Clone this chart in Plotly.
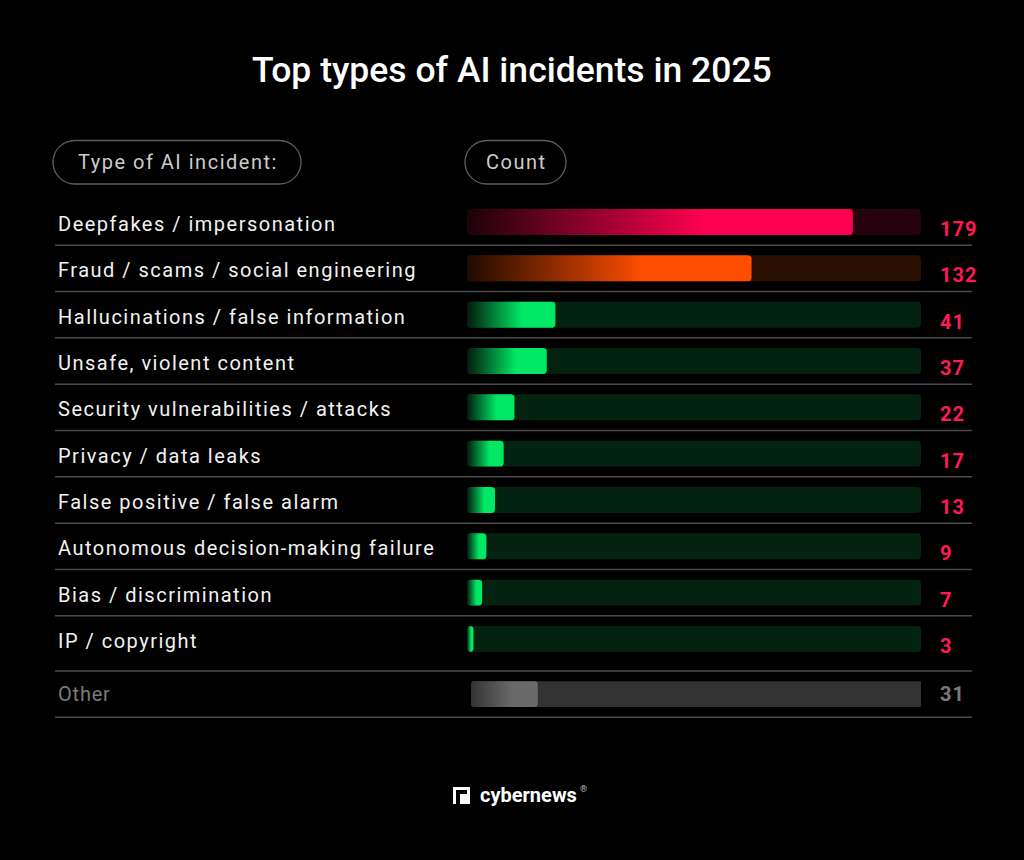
import math
import plotly.graph_objects as go

# ---------------- data ----------------
categories = [
    "Deepfakes / impersonation",
    "Fraud / scams / social engineering",
    "Hallucinations / false information",
    "Unsafe, violent content",
    "Security vulnerabilities / attacks",
    "Privacy / data leaks",
    "False positive / false alarm",
    "Autonomous decision-making failure",
    "Bias / discrimination",
    "IP / copyright",
]
counts = [179, 132, 41, 37, 22, 17, 13, 9, 7, 3]
other_label = "Other"
other_count = 31

title_text = "Top types of AI incidents in 2025"
header_left = "Type of AI incident:"
header_right = "Count"
brand = "cybernews"

# ---------------- layout constants ----------------
W, H = 1024, 860
PX_X0, PX_X1 = 467, 921          # track pixel extent
TRACK_MAX = 210.6                # axis max (track end)
PX_PER_X = (PX_X1 - PX_X0) / TRACK_MAX
ROW0_PX, ROW_PX = 222, 46.33     # first row centre, row pitch (px)
OTHER_GAP = 0.19
BAR_H = 0.56
FONT = "Roboto"
OTHER_BASE = 4 / PX_PER_X        # small indent of the "Other" bar

n = len(categories)
main_pos = list(range(n))
other_pos = n + OTHER_GAP
y_top = -ROW0_PX / ROW_PX
y_bot = (H - ROW0_PX) / ROW_PX

RED = dict(bright="#ff0050", dark="#1c0208", track="#26020f")
ORANGE = dict(bright="#ff4d00", dark="#1f0a00", track="#2a1000")
GREEN = dict(bright="#00e865", dark="#021a0b", track="#03220f")
GRAY = dict(bright="#6a6a6a", dark="#333333", track="#333333")
styles = [RED, ORANGE] + [GREEN] * (n - 2)

VALUE_COLOR = "#ff1a56"
OTHER_TEXT = "#7a7a7a"
LINE_COLOR = "#4a4a4a"


def px2paper(x, y):
    return x / W, 1 - y / H


def rounded_rect(x0, x1, yc, h, r_px):
    rx = min(r_px / PX_PER_X, (x1 - x0) / 2)
    ry = r_px / ROW_PX
    y0, y1 = yc - h / 2, yc + h / 2
    corners = [(x1 - rx, y0 + ry, -90, 0), (x1 - rx, y1 - ry, 0, 90),
               (x0 + rx, y1 - ry, 90, 180), (x0 + rx, y0 + ry, 180, 270)]
    xs, ys = [], []
    for cx, cy, a0, a1 in corners:
        for k in range(7):
            a = math.radians(a0 + (a1 - a0) * k / 6)
            xs.append(cx + rx * math.cos(a))
            ys.append(cy + ry * math.sin(a))
    xs.append(xs[0])
    ys.append(ys[0])
    return xs, ys


fig = go.Figure()

all_pos = main_pos + [other_pos]
all_styles = styles + [GRAY]
all_counts = counts + [other_count]
all_base = [0] * n + [OTHER_BASE]

# tracks
fig.add_trace(go.Bar(
    x=[TRACK_MAX - b + 2 / PX_PER_X * (b > 0) for b in all_base], base=all_base, y=all_pos, orientation="h",
    width=BAR_H, marker=dict(color=[s["track"] for s in all_styles], cornerradius=4, line=dict(width=0)),
    hoverinfo="skip", showlegend=False,
))

# value bars with gradients
for pos, val, st, b in zip(all_pos, all_counts, all_styles, all_base):
    xs, ys = rounded_rect(b, b + val, pos, BAR_H, 3)
    fig.add_trace(go.Scatter(
        x=xs, y=ys, mode="lines", fill="toself", line=dict(width=0),
        fillcolor=st["bright"],
        fillgradient=dict(type="horizontal", start=b, stop=b + val * 0.62,
                          colorscale=[[0, st["dark"]], [1, st["bright"]]]),
        hoverinfo="skip", showlegend=False,
    ))

annotations = []
shapes = []

# title
tx, ty = px2paper(512, 70)
annotations.append(dict(x=tx, y=ty, xref="paper", yref="paper", text=title_text, showarrow=False,
                        xanchor="center", yanchor="middle",
                        font=dict(family=FONT, size=35.5, color="#ffffff", weight=500)))


def pill(x0, y0, x1, y1):
    r = (y1 - y0) / 2
    k = 0.5523 * r
    pts = [
        ("M", [(x0 + r, y0)]),
        ("L", [(x1 - r, y0)]),
        ("C", [(x1 - r + k, y0), (x1, y0 + r - k), (x1, y0 + r)]),
        ("C", [(x1, y0 + r + k), (x1 - r + k, y1), (x1 - r, y1)]),
        ("L", [(x0 + r, y1)]),
        ("C", [(x0 + r - k, y1), (x0, y0 + r + k), (x0, y0 + r)]),
        ("C", [(x0, y0 + r - k), (x0 + r - k, y0), (x0 + r, y0)]),
    ]
    path = ""
    for cmd, ps in pts:
        path += cmd + " " + " ".join("%.5f,%.5f" % px2paper(px, py) for px, py in ps) + " "
    return dict(type="path", xref="paper", yref="paper", path=path + "Z",
                line=dict(color="#5c5c5c", width=1.3), fillcolor="rgba(0,0,0,0)")


for (x0, x1, label) in [(53, 301, header_left), (465, 566, header_right)]:
    shapes.append(pill(x0, 140.5, x1, 184))
    cx, cy = px2paper((x0 + x1) / 2 + 1, 162)
    annotations.append(dict(x=cx, y=cy, xref="paper", yref="paper", showarrow=False,
                            text='<span style="letter-spacing:1.5px">%s</span>' % label,
                            xanchor="center", yanchor="middle",
                            font=dict(family=FONT, size=20, color="#cccccc")))

# row labels & values
lx = 57 / W
vx = 939 / W
for pos, cat, val in zip(main_pos, categories, counts):
    annotations.append(dict(x=lx, y=pos, xref="paper", yref="y", showarrow=False, yshift=-2,
                            text='<span style="letter-spacing:1.5px">%s</span>' % cat,
                            xanchor="left", yanchor="middle", borderpad=0,
                            font=dict(family=FONT, size=20, color="#f2f2f2")))
    annotations.append(dict(x=vx, y=pos, xref="paper", yref="y", showarrow=False, yshift=-7,
                            text='<span style="letter-spacing:1px">%d</span>' % val,
                            xanchor="left", yanchor="middle", borderpad=0,
                            font=dict(family=FONT, size=20, color=VALUE_COLOR, weight="bold")))

annotations.append(dict(x=lx, y=other_pos, xref="paper", yref="y", showarrow=False,
                        text='<span style="letter-spacing:0.8px">%s</span>' % other_label,
                        xanchor="left", yanchor="middle", borderpad=0,
                        font=dict(family=FONT, size=20, color=OTHER_TEXT)))
annotations.append(dict(x=vx, y=other_pos, xref="paper", yref="y", showarrow=False,
                        text='<span style="letter-spacing:1px">%d</span>' % other_count,
                        xanchor="left", yanchor="middle", borderpad=0,
                        font=dict(family=FONT, size=20, color=OTHER_TEXT, weight="bold")))

# separator lines
line_pos = [p + 0.5 for p in main_pos[:-1]] + [other_pos - 0.5, other_pos + 0.5]
for lp in line_pos:
    shapes.append(dict(type="line", xref="paper", yref="y", x0=55 / W, x1=972 / W, y0=lp, y1=lp,
                       line=dict(color=LINE_COLOR, width=1.5)))

# brand logo
def prect(x0, y0, x1, y1, color):
    a = px2paper(x0, y0)
    b = px2paper(x1, y1)
    return dict(type="rect", xref="paper", yref="paper", x0=a[0], y0=b[1], x1=b[0], y1=a[1],
                fillcolor=color, line=dict(width=0))

shapes.append(prect(453, 787, 470, 804, "#ffffff"))
shapes.append(prect(456, 790, 467, 804, "#000000"))
shapes.append(prect(460, 794, 467, 804, "#ffffff"))
shapes.append(prect(456, 794, 459.5, 804, "#000000"))
bx, by = px2paper(478, 795)
annotations.append(dict(x=bx, y=by, xref="paper", yref="paper", showarrow=False, text=brand,
                        xanchor="left", yanchor="middle",
                        font=dict(family=FONT, size=20, color="#ffffff", weight="bold")))
rx_, ry_ = px2paper(579, 789)
annotations.append(dict(x=rx_, y=ry_, xref="paper", yref="paper", showarrow=False, text="®",
                        xanchor="left", yanchor="middle", borderpad=0,
                        font=dict(family=FONT, size=9, color="#bbbbbb")))

fig.update_layout(
    width=W, height=H, margin=dict(l=0, r=0, t=0, b=0),
    paper_bgcolor="#000000", plot_bgcolor="#000000",
    xaxis=dict(domain=[PX_X0 / W, PX_X1 / W], range=[0, TRACK_MAX], visible=False, fixedrange=True),
    yaxis=dict(domain=[0, 1], range=[y_bot, y_top], visible=False, fixedrange=True),
    annotations=annotations, shapes=shapes, barmode="overlay",
    showlegend=False,
)

fig.write_html("out.html", config={"displayModeBar": False})
